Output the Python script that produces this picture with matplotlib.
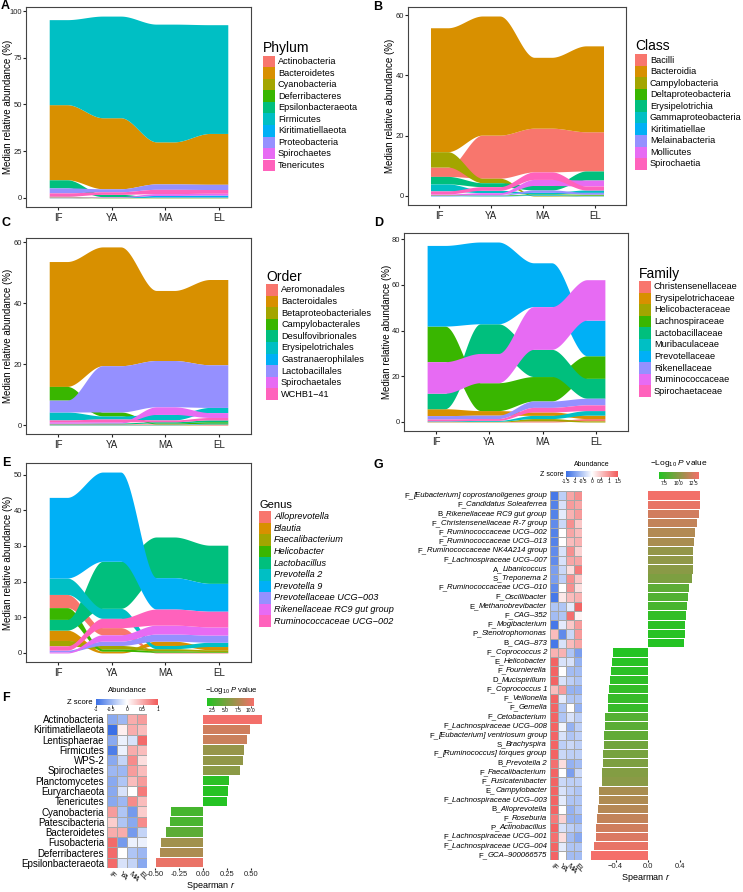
import numpy as np
import matplotlib
matplotlib.use('Agg')
import matplotlib.pyplot as plt
from matplotlib.colors import LinearSegmentedColormap, Normalize
from matplotlib.patches import Rectangle

plt.rcParams['font.family'] = ['Liberation Sans', 'DejaVu Sans']
plt.rcParams['mathtext.fontset'] = 'custom'
plt.rcParams['mathtext.rm'] = 'Liberation Sans'
plt.rcParams['mathtext.it'] = 'Liberation Sans:italic'

# ---- data -------------------------------------------------------------
stages = ['IF', 'YA', 'MA', 'EL']
hue10 = ['#F8766D', '#D89000', '#A3A500', '#39B600', '#00BF7D',
         '#00BFC4', '#00B0F6', '#9590FF', '#E76BF3', '#FF62BC']

# A - phylum (median relative abundance, IF YA MA EL)
phylum_names = ['Actinobacteria', 'Bacteroidetes', 'Cyanobacteria', 'Deferribacteres',
                'Epsilonbacteraeota', 'Firmicutes', 'Kiritimatiellaeota',
                'Proteobacteria', 'Spirochaetes', 'Tenericutes']
phylum_vals = [[0.1, 0.2, 0.2, 0.2],
               [40.2, 38.0, 22.5, 27.2],
               [0.2, 0.1, 0.1, 0.1],
               [0.3, 0.1, 0.1, 0.1],
               [4.3, 1.2, 0.1, 0.1],
               [45.5, 54.4, 63.0, 58.2],
               [0.1, 0.1, 0.8, 1.0],
               [2.7, 1.6, 2.9, 2.8],
               [0.2, 0.2, 1.0, 1.0],
               [1.8, 1.4, 2.3, 2.0]]

# B - class
class_names = ['Bacilli', 'Bacteroidia', 'Campylobacteria', 'Deltaproteobacteria',
               'Erysipelotrichia', 'Gammaproteobacteria', 'Kiritimatiellae',
               'Melainabacteria', 'Mollicutes', 'Spirochaetia']
class_vals = [[3.1, 14.3, 14.5, 13.0],
              [41.1, 39.5, 23.5, 28.5],
              [5.1, 1.5, 0.2, 0.2],
              [0.2, 0.2, 0.3, 0.3],
              [2.5, 1.3, 1.5, 3.0],
              [2.3, 0.8, 0.5, 0.8],
              [0.1, 0.1, 0.2, 0.1],
              [0.1, 0.2, 0.8, 0.6],
              [0.3, 0.6, 2.0, 2.0],
              [1.0, 1.2, 2.5, 1.3]]

# C - order
order_names = ['Aeromonadales', 'Bacteroidales', 'Betaproteobacteriales', 'Campylobacterales',
               'Desulfovibrionales', 'Erysipelotrichales', 'Gastranaerophilales',
               'Lactobacillales', 'Spirochaetales', 'WCHB1\u221241']
order_vals = [[0.2, 0.2, 0.2, 0.2],
              [41.0, 39.0, 23.0, 28.0],
              [0.1, 0.1, 0.1, 0.2],
              [4.5, 1.3, 0.3, 0.5],
              [0.2, 0.3, 0.4, 0.6],
              [2.6, 1.0, 1.8, 1.7],
              [0.1, 0.1, 0.1, 0.2],
              [3.9, 15.2, 15.2, 14.0],
              [0.5, 0.4, 2.5, 1.6],
              [0.6, 0.9, 0.6, 0.8]]

# D - family
family_names = ['Christensenellaceae', 'Erysipelotrichaceae', 'Helicobacteraceae',
                'Lachnospiraceae', 'Lactobacillaceae', 'Muribaculaceae', 'Prevotellaceae',
                'Rikenellaceae', 'Ruminococcaceae', 'Spirochaetaceae']
family_vals = [[0.1, 0.1, 0.5, 1.0],
               [3.0, 2.0, 1.5, 1.5],
               [0.1, 0.2, 1.0, 0.5],
               [15.6, 12.2, 10.7, 9.9],
               [6.8, 13.0, 11.9, 8.7],
               [0.3, 0.4, 1.4, 2.0],
               [35.3, 35.8, 19.2, 15.6],
               [1.5, 1.5, 2.8, 2.9],
               [13.8, 12.8, 18.7, 17.7],
               [0.8, 0.8, 2.0, 2.5]]

# E - genus
genus_names = ['Alloprevotella', 'Blautia', 'Faecalibacterium', 'Helicobacter',
               'Lactobacillus', 'Prevotella 2', 'Prevotella 9',
               'Prevotellaceae UCG\u2212003', 'Rikenellaceae RC9 gut group',
               'Ruminococcaceae UCG\u2212002']
genus_vals = [[3.7, 2.0, 0.2, 0.2],
              [2.9, 0.5, 1.2, 0.9],
              [1.5, 1.0, 0.6, 0.5],
              [3.3, 0.6, 0.4, 0.2],
              [3.0, 13.2, 11.4, 10.7],
              [4.6, 2.8, 0.9, 1.2],
              [22.6, 25.0, 8.8, 7.8],
              [0.5, 1.2, 2.0, 2.0],
              [0.3, 1.8, 2.5, 2.3],
              [1.2, 2.6, 4.5, 4.4]]

# F - phyla correlated with age
f_names = ['Actinobacteria', 'Kiritimatiellaeota', 'Lentisphaerae', 'Firmicutes', 'WPS-2',
           'Spirochaetes', 'Planctomycetes', 'Euryarchaeota', 'Tenericutes', 'Cyanobacteria',
           'Patescibacteria', 'Bacteroidetes', 'Fusobacteria', 'Deferribacteres',
           'Epsilonbacteraeota']
f_z = [[-0.6, -0.5, 0.5, 0.6],
       [-1.0, 0.1, 0.5, 0.4],
       [-0.6, -0.1, -0.2, 0.9],
       [-0.9, -0.1, 0.5, 0.4],
       [-0.6, -0.3, 0.7, 0.2],
       [-0.5, -0.5, 0.6, 0.4],
       [-0.6, -0.4, 0.4, 0.6],
       [-0.6, -0.2, 0.0, 0.8],
       [-0.6, -0.5, 0.7, 0.4],
       [0.6, -0.4, -0.7, 0.3],
       [0.3, -0.4, -0.6, 0.7],
       [0.5, 0.5, -0.7, -0.3],
       [0.9, -0.7, -0.1, -0.1],
       [0.9, 0.0, -0.4, -0.5],
       [0.9, -0.2, -0.3, -0.6]]
f_r = [0.62, 0.49, 0.46, 0.43, 0.42, 0.39, 0.27, 0.26, 0.25,
       -0.33, -0.345, -0.38, -0.44, -0.45, -0.49]
f_logp = [10.6, 9.0, 8.8, 6.5, 6.3, 6.0, 1.8, 1.6, 1.5, 3.0, 3.2, 4.0, 7.0, 7.5, 10.2]

# G - genera correlated with age (prefix = phylum initial)
g_prefix = ['F', 'F', 'B', 'F', 'F', 'F', 'F', 'F', 'A', 'S', 'F', 'F', 'E', 'F', 'F', 'P', 'B',
            'F', 'E', 'F', 'D', 'F', 'F', 'F', 'F', 'F', 'F', 'S', 'F', 'B', 'F', 'F', 'E',
            'F', 'B', 'F', 'P', 'F', 'F', 'F']
g_names = ['[Eubacterium] coprostanoligenes group', 'Candidatus Soleaferrea',
           'Rikenellaceae RC9 gut group', 'Christensenellaceae R-7 group',
           'Ruminococcaceae UCG\u2013002', 'Ruminococcaceae UCG\u2013013',
           'Ruminococcaceae NK4A214 group', 'Lachnospiraceae UCG\u2013007', 'Libanicoccus',
           'Treponema 2', 'Ruminococcaceae UCG\u2013010', 'Oscillibacter', 'Methanobrevibacter',
           'CAG\u2013352', 'Mogibacterium', 'Stenotrophomonas', 'CAG\u2013873', 'Coprococcus 2',
           'Helicobacter', 'Fournierella', 'Mucispirillum', 'Coprococcus 1', 'Veillonella',
           'Gemella', 'Cetobacterium', 'Lachnospiraceae UCG\u2013008',
           '[Eubacterium] ventriosum group', 'Brachyspira', '[Ruminococcus] torques group',
           'Prevotella 2', 'Faecalibacterium', 'Fusicatenibacter', 'Campylobacter',
           'Lachnospiraceae UCG\u2013003', 'Alloprevotella', 'Roseburia', 'Actinobacillus',
           'Lachnospiraceae UCG\u2013001', 'Lachnospiraceae UCG\u2013004', 'GCA\u2013900066575']
g_z = [[-1.4, -0.5, 0.8, 1.0], [-1.3, -0.3, 0.9, 0.8], [-1.3, -0.2, 0.7, 0.9],
       [-1.2, -0.4, 1.0, 0.5], [-1.3, 0.0, 0.8, 0.6], [-1.3, 0.0, 0.6, 0.7],
       [-1.2, -0.3, 1.0, 0.4], [-1.2, -0.3, 0.8, 0.8], [-1.0, -0.4, 0.3, 1.2],
       [-1.0, -0.5, 1.0, 0.5], [-1.2, 0.0, 1.0, 0.3], [-1.4, 0.2, 0.6, 0.7],
       [-0.6, -0.6, -0.2, 1.4], [-0.7, -0.6, 1.3, 0.1], [-1.4, -0.2, 0.5, 0.9],
       [0.6, -1.2, -0.4, 0.9], [-1.4, -0.3, 0.6, 0.8], [0.7, 0.7, -0.6, -1.0],
       [1.4, -0.3, -0.3, -0.8], [1.4, 0.0, -0.7, -0.7], [1.4, -0.3, -0.5, -0.6],
       [0.6, 0.9, -0.8, -0.8], [1.4, -0.2, -0.6, -0.6], [1.4, -0.6, 0.0, -0.8],
       [1.4, -0.6, -0.3, -0.5], [1.4, -0.1, -0.8, -0.5], [1.4, -0.3, -0.6, -0.5],
       [1.4, -0.5, -0.4, -0.5], [1.4, -0.4, -0.5, -0.5], [1.3, 0.3, -0.8, -0.7],
       [1.4, 0.0, -1.0, -0.4], [1.4, -0.4, -0.5, -0.5], [1.4, -0.3, -0.5, -0.6],
       [1.4, -0.2, -0.6, -0.6], [1.4, 0.0, -0.8, -0.6], [1.2, 0.4, -0.8, -0.8],
       [1.4, -0.3, -0.5, -0.6], [1.3, 0.3, -0.7, -0.9], [1.4, -0.2, -0.6, -0.6],
       [1.4, 0.0, -0.7, -0.7]]
g_r = [0.647, 0.64, 0.627, 0.606, 0.586, 0.569, 0.557, 0.557, 0.553, 0.544, 0.511, 0.499,
       0.487, 0.47, 0.462, 0.458, 0.449,
       -0.437, -0.449, -0.458, -0.466, -0.478, -0.487, -0.487, -0.528, -0.536, -0.544,
       -0.548, -0.553, -0.557, -0.565, -0.569, -0.61, -0.61, -0.619, -0.627, -0.639,
       -0.647, -0.66, -0.70]
g_logp = [13.3, 13.0, 12.3, 11.8, 11.3, 11.0, 10.3, 10.2, 10.0, 9.6, 8.6, 8.2, 7.9, 7.2, 7.0,
          6.9, 6.8, 6.8, 6.9, 7.0, 7.1, 7.3, 7.4, 7.4, 8.3, 8.5, 8.7, 9.2, 9.4, 9.6, 9.8,
          10.0, 11.0, 11.2, 11.4, 11.8, 12.2, 12.6, 13.0, 13.4]

# ---- figure -----------------------------------------------------------
W, H = 743, 892
fig = plt.figure(figsize=(W / 100, H / 100), dpi=100)


def add_ax(l, t, r, b):
    return fig.add_axes([l / W, 1 - b / H, (r - l) / W, (b - t) / H])


def draw_legend(x, ytitle, ykey, step, names, title, title_size=10, italic=False):
    fig.text(x / W, 1 - ytitle / H, title, fontsize=title_size, ha='left', va='baseline')
    for i, (nm, c) in enumerate(zip(names, hue10)):
        top = ykey + i * step
        fig.patches.append(Rectangle((x / W, 1 - (top + step) / H), 12 / W, step / H,
                                     transform=fig.transFigure, color=c, lw=0))
        fig.text((x + 15) / W, 1 - (top + step / 2) / H, nm, fontsize=6.6, ha='left',
                 va='center', fontstyle='italic' if italic else 'normal')


def stream(box, names, vals, yticks, ylab_x):
    ax = add_ax(*box)
    vals = np.array(vals, dtype=float)
    ncat, nt = vals.shape
    lo = np.zeros_like(vals)
    hi = np.zeros_like(vals)
    for j in range(nt):
        cum = 0.0
        for k in np.argsort(vals[:, j], kind='stable'):
            lo[k, j] = cum
            cum += vals[k, j]
            hi[k, j] = cum
    w = 1 / 3
    t = np.linspace(0, 1, 60)[1:-1]
    s = t * t * (3 - 2 * t)
    for k in range(ncat):
        xs, ys0, ys1 = [], [], []
        for j in range(nt):
            xc = j + 1
            xs += [xc - w / 2, xc + w / 2]
            ys0 += [lo[k, j]] * 2
            ys1 += [hi[k, j]] * 2
            if j < nt - 1:
                xs += list(xc + w / 2 + t * (1 - w))
                ys0 += list(lo[k, j] + s * (lo[k, j + 1] - lo[k, j]))
                ys1 += list(hi[k, j] + s * (hi[k, j + 1] - hi[k, j]))
        ax.fill_between(xs, ys0, ys1, color=hue10[k], lw=0)
    ymax = vals.sum(axis=0).max()
    ax.set_xlim(0.4, 4.6)
    ax.set_ylim(-0.05 * ymax, 1.05 * ymax)
    ax.set_xticks(range(1, 5), stages)
    ax.set_yticks(yticks)
    ax.tick_params(axis='x', labelsize=7, length=2, pad=2, colors='#222222')
    ax.tick_params(axis='y', labelsize=5.5, length=2, pad=1, colors='#222222')
    for sp in ax.spines.values():
        sp.set_color('#444444')
        sp.set_linewidth(0.8)
    fig.text(ylab_x / W, 1 - (box[1] + box[3]) / 2 / H, 'Median relative abundance (%)',
             fontsize=7, rotation=90, ha='center', va='center')
    return ax


stream((26, 7, 251, 207), phylum_names, phylum_vals, [0, 25, 50, 75, 100], 8)
draw_legend(263, 52, 56, 11.5, phylum_names, 'Phylum')
stream((408, 7, 626, 205), class_names, class_vals, [0, 20, 40, 60], 390)
draw_legend(635, 50, 54.5, 11.5, class_names, 'Class')
stream((26, 238, 251, 434), order_names, order_vals, [0, 20, 40, 60], 8)
draw_legend(266, 281, 284, 11.6, order_names, 'Order')
stream((404, 233, 628, 431), family_names, family_vals, [0, 20, 40, 60, 80], 387)
draw_legend(639, 278, 281, 11.6, family_names, 'Family')
stream((26, 463, 251, 662), genus_names, genus_vals, [0, 10, 20, 30, 40, 50], 8)
draw_legend(259, 508, 511, 11.6, genus_names, 'Genus', title_size=8, italic=True)

zcmap = LinearSegmentedColormap.from_list('z', ['#3A6FE6', '#FFFFFF', '#F25A5A'])
pcmap = LinearSegmentedColormap.from_list('p', ['#22C422', '#F46F6A'])


def cbar(box, cmap, vmin, vmax, ticks, labels):
    cax = add_ax(*box)
    cax.imshow(np.linspace(vmin, vmax, 256)[None, :], aspect='auto', cmap=cmap,
               extent=[vmin, vmax, 0, 1])
    cax.set_xticks(ticks, labels)
    cax.set_yticks([])
    cax.tick_params(axis='x', labelsize=3.5, length=1.2, width=0.5, pad=0.5)
    for sp in cax.spines.values():
        sp.set_visible(False)
    return cax


def heat_bars(hbox, bbox, labels, z, r, logp, zlim, plim, xlim, xticks, xticklabels,
              lab_size):
    n = len(z)
    ax = add_ax(*hbox)
    ax.pcolormesh(np.array(z), cmap=zcmap, vmin=-zlim, vmax=zlim,
                  edgecolors='#A8A8A8', linewidth=0.4)
    ax.set_xlim(0, 4)
    ax.set_ylim(n, 0)
    if labels is not None:
        ax.set_yticks(np.arange(n) + 0.5, labels)
    else:
        ax.set_yticks([])
    ax.set_xticks(np.arange(4) + 0.5)
    ax.set_xticklabels(stages, rotation=-45, ha='left', va='top', rotation_mode='anchor')
    ax.tick_params(axis='y', length=0, labelsize=lab_size, pad=2)
    ax.tick_params(axis='x', length=0, labelsize=5.5, pad=2)
    for sp in ax.spines.values():
        sp.set_visible(False)

    bx = add_ax(*bbox)
    cols = pcmap(Normalize(*plim)(logp))
    bx.barh(np.arange(n) + 0.5, r, height=0.9, color=cols)
    bx.set_ylim(n, 0)
    bx.set_xlim(*xlim)
    bx.set_yticks([])
    bx.set_xticks(xticks, xticklabels)
    bx.tick_params(axis='x', labelsize=5.5, length=1.5, pad=1, colors='#222222')
    for sp in bx.spines.values():
        sp.set_visible(False)
    bx.set_xlabel('Spearman $\\it{r}$', fontsize=6.5, labelpad=1)
    bx.patch.set_alpha(0)
    return ax


# F
heat_bars((107, 714, 147, 868), (152, 714, 270, 868), f_names, f_z, f_r, f_logp,
          1.0, (1.4, 10.65), (-0.53, 0.70),
          [-0.5, -0.25, 0, 0.25, 0.5], ['-0.50', '-0.25', '0.00', '0.25', '0.50'], 7)
cbar((96, 699, 158, 705), zcmap, -1, 1, [-1, -0.5, 0, 0.5, 1], ['-1', '-0.5', '0', '0.5', '1'])
cbar((207, 698, 254, 706), pcmap, 1.4, 10.65, [2.5, 5, 7.5, 10], ['2.5', '5.0', '7.5', '10.0'])
fig.text(127 / W, 1 - 691 / H, 'Abundance', fontsize=5.5, ha='center', va='center')
fig.text(93 / W, 1 - 702 / H, 'Z score', fontsize=5.5, ha='right', va='center')
fig.text(231 / W, 1 - 691 / H, '$-$Log$_{10}$ $\\it{P}$ value', fontsize=5.5,
         ha='center', va='center')

# G  (row labels: upright prefix + italic genus name)
g_top, g_bot = 491, 860
heat_bars((550, g_top, 582, g_bot), (588, g_top, 703, g_bot), None, g_z, g_r, g_logp,
          1.5, (6.7, 13.4), (-0.74, 0.68),
          [-0.4, 0, 0.4], ['\u22120.4', '0.0', '0.4'], 5.6)
renderer = fig.canvas.get_renderer()
row_h = (g_bot - g_top) / len(g_names)
for i, (p, nm) in enumerate(zip(g_prefix, g_names)):
    yy = 1 - (g_top + (i + 0.5) * row_h) / H
    tn = fig.text(547 / W, yy, nm, fontsize=5.6, fontstyle='italic', ha='right', va='center')
    bb = tn.get_window_extent(renderer)
    fig.text(bb.x0 / fig.bbox.width, yy, p + '_', fontsize=5.6, ha='right', va='center')

cbar((566, 471, 618, 477), zcmap, -1.5, 1.5, [-1.5, -1, -0.5, 0, 0.5, 1, 1.5],
     ['-1.5', '-1', '-0.5', '0', '0.5', '1', '1.5'])
cbar((659, 472, 699, 479), pcmap, 6.7, 13.4, [7.5, 10, 12.5], ['7.5', '10.0', '12.5'])
fig.text(592 / W, 1 - 465 / H, 'Abundance', fontsize=5, ha='center', va='center')
fig.text(564 / W, 1 - 474 / H, 'Z score', fontsize=5, ha='right', va='center')
fig.text(679 / W, 1 - 464 / H, '$-$Log$_{10}$ $\\it{P}$ value', fontsize=6,
         ha='center', va='center')

# panel letters
for letter, (x, y) in {'A': (1, 0), 'B': (373, 1), 'C': (2, 217), 'D': (374, 217),
                       'E': (2, 457), 'F': (2, 692), 'G': (374, 459)}.items():
    fig.text(x / W, 1 - y / H, letter, fontsize=9, fontweight='bold', va='top', ha='left')

fig.savefig('out.png', dpi=100)
